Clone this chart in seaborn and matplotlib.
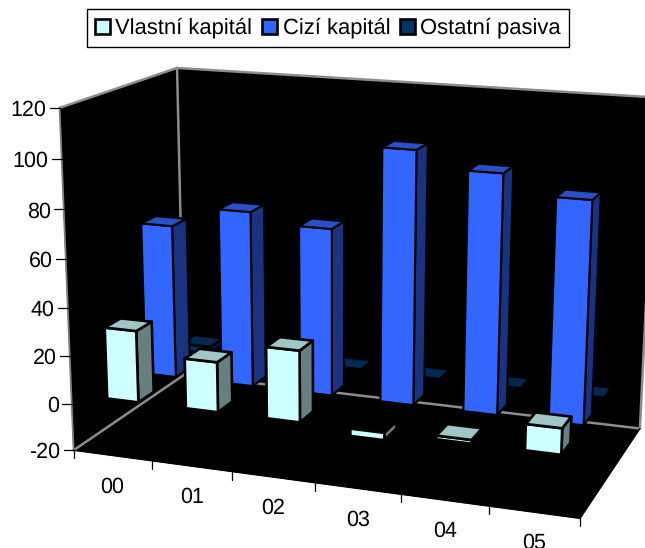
import numpy as np
import pandas as pd
import seaborn as sns
import matplotlib
matplotlib.use("Agg")
import matplotlib.pyplot as plt
from matplotlib.patches import Polygon, Patch

# Balance sheet structure by year
years = ["00", "01", "02", "03", "04", "05"]
series = ["Vlastní kapitál", "Cizí kapitál", "Ostatní pasiva"]
vlastni = [30, 20.8, 29.4, -3, 1.5, 10.5]
cizi = [65, 73.8, 69.8, 104.2, 97.6, 90]
ostatni = [3, 2, 0.5, 0.2, 0.2, 0.2]
z_ticks = [-20, 0, 20, 40, 60, 80, 100, 120]

sns.set_theme(style="white")
plt.rcParams["font.family"] = ["Liberation Sans", "DejaVu Sans"]
plt.rcParams["text.color"] = "black"
plt.rcParams["text.hinting"] = "no_hinting"

frame = pd.DataFrame({"rok": years, series[0]: vlastni, series[1]: cizi, series[2]: ostatni})
long = frame.melt(id_vars="rok", var_name="rada", value_name="hodnota")

palette = sns.color_palette(["#CCFFFF", "#3366FF", "#003366"])
SHADE_TOP, SHADE_SIDE = 0.78, 0.50


def shade(color, k):
    return tuple(c * k for c in color)


# Camera: least-squares projective fit from (year, series, value) to figure pixels
calib_world = np.array([
    [0, 0, -20], [1, 0, -20], [2, 0, -20], [3, 0, -20], [4, 0, -20], [5, 0, -20], [6, 0, -20],
    [6, 3, -20], [0, 3, -20], [0, 3, 120], [6, 3, 120],
    [0, 0, 0], [0, 0, 20], [0, 0, 40], [0, 0, 60], [0, 0, 80], [0, 0, 100], [0, 0, 120],
], dtype=float)
calib_pixel = np.array([
    [74, 450], [152, 461.5], [232, 472], [315, 483], [401, 494.5], [489, 506.3], [580, 518],
    [640, 428], [184, 375], [177, 68], [656, 97.7],
    [72, 403], [70, 355.7], [68, 308], [65, 258.7], [63.3, 209], [61.7, 159.3], [60, 108],
], dtype=float)


def fit_camera(world, pixel):
    rows = []
    for (X, Y, Z), (x, y) in zip(world, pixel):
        rows.append([X, Y, Z, 1, 0, 0, 0, 0, -x * X, -x * Y, -x * Z, -x])
        rows.append([0, 0, 0, 0, X, Y, Z, 1, -y * X, -y * Y, -y * Z, -y])
    return np.linalg.svd(np.array(rows))[2][-1].reshape(3, 4)


CAMERA = fit_camera(calib_world, calib_pixel)


def project(u, v, z):
    h = CAMERA @ np.array([u, v, z, 1.0])
    return h[0] / h[2], h[1] / h[2]


def face(points, facecolor, edgecolor="black", lw=1.2, zorder=3):
    ax.add_patch(Polygon([project(*p) for p in points], closed=True, facecolor=facecolor,
                         edgecolor=edgecolor, linewidth=lw, joinstyle="round", zorder=zorder))


def edge(a, b, color="#8C8C8C", lw=1.5, zorder=2):
    pa, pb = project(*a), project(*b)
    ax.plot([pa[0], pb[0]], [pa[1], pb[1]], color=color, lw=lw, zorder=zorder,
            solid_capstyle="round")


fig = plt.figure(figsize=(6.45, 5.48), dpi=100)
ax = fig.add_axes([0, 0, 1, 1])
ax.set_xlim(0, 645)
ax.set_ylim(548, 0)
ax.axis("off")

n_u, n_v = len(years), len(series)
Z0, Z1 = z_ticks[0], z_ticks[-1]

# Walls and floor
face([(0, 0, Z0), (0, n_v, Z0), (0, n_v, Z1), (0, 0, Z1)], "black", "black", 0.5, 1)
face([(0, n_v, Z0), (n_u, n_v, Z0), (n_u, n_v, Z1), (0, n_v, Z1)], "black", "black", 0.5, 1)
face([(0, 0, Z0), (n_u, 0, Z0), (n_u, n_v, Z0), (0, n_v, Z0)], "black", "black", 0.5, 1)
edge((0, 0, Z1), (0, n_v, Z1), lw=1.8)
edge((0, n_v, Z1), (n_u, n_v, Z1), lw=1.8)
edge((0, n_v, Z0), (0, n_v, Z1), lw=1.8)
edge((n_u, n_v, Z0), (n_u, n_v, Z1), lw=1.8)
edge((0, 0, Z0), (0, 0, Z1), color="#808080", lw=1.3)
edge((0, 0, Z0), (0, n_v, Z0), lw=1.8)
edge((0, n_v, Z0), (n_u, n_v, Z0), lw=1.8)
edge((0, 0, Z0), (n_u, 0, Z0), color="black", lw=1.0)
edge((n_u, 0, Z0), (n_u, n_v, Z0), color="black", lw=1.0)

# Columns, far row first so nearer rows paint over it
MARGIN = 0.3
WIDTH = 0.4
for v_index in range(n_v - 1, -1, -1):
    rows = long[long["rada"] == series[v_index]]
    color = palette[v_index]
    for u_index, value in enumerate(rows["hodnota"]):
        u0, u1 = u_index + MARGIN, u_index + MARGIN + WIDTH
        v0, v1 = v_index + MARGIN, v_index + MARGIN + WIDTH
        low, high = min(0, value), max(0, value)
        outline = 1.5 if v_index == 1 else 1.9
        face([(u1, v0, low), (u1, v1, low), (u1, v1, high), (u1, v0, high)],
             shade(color, SHADE_SIDE), lw=outline)
        face([(u0, v0, low), (u1, v0, low), (u1, v0, high), (u0, v0, high)], color, lw=outline)
        if value > 0:
            face([(u0, v0, high), (u1, v0, high), (u1, v1, high), (u0, v1, high)],
                 shade(color, SHADE_TOP), lw=outline)

# Value axis ticks and labels
for z in z_ticks:
    x, y = project(0, 0, z)
    ax.plot([x - 10, x], [y, y], color="black", lw=0.9, zorder=4)
    ax.text(x - 13, y, str(z), ha="right", va="center_baseline", fontsize=15.5, color="black")

# Year ticks and labels
for u in range(n_u + 1):
    x, y = project(u, 0, Z0)
    ax.plot([x, x], [y, y + 8], color="black", lw=0.9, zorder=4)
for u, year in enumerate(years):
    x, y = project(u + 0.5, 0, Z0)
    ax.text(x, y + 29, year, ha="center", va="center_baseline", fontsize=15.5, color="black")

# Legend
handles = [Patch(facecolor=c, edgecolor="black", linewidth=1.9) for c in palette]
ax.legend(handles, series, ncol=3, loc="center", bbox_to_anchor=(328 / 645, 1 - 28 / 548),
          fontsize=15.8, frameon=True, fancybox=False, framealpha=1, edgecolor="black",
          handlelength=0.68, handleheight=0.68, handletextpad=0.25, columnspacing=0.45,
          borderpad=0.38, borderaxespad=0)

fig.savefig("out.png", dpi=100, facecolor="white")
